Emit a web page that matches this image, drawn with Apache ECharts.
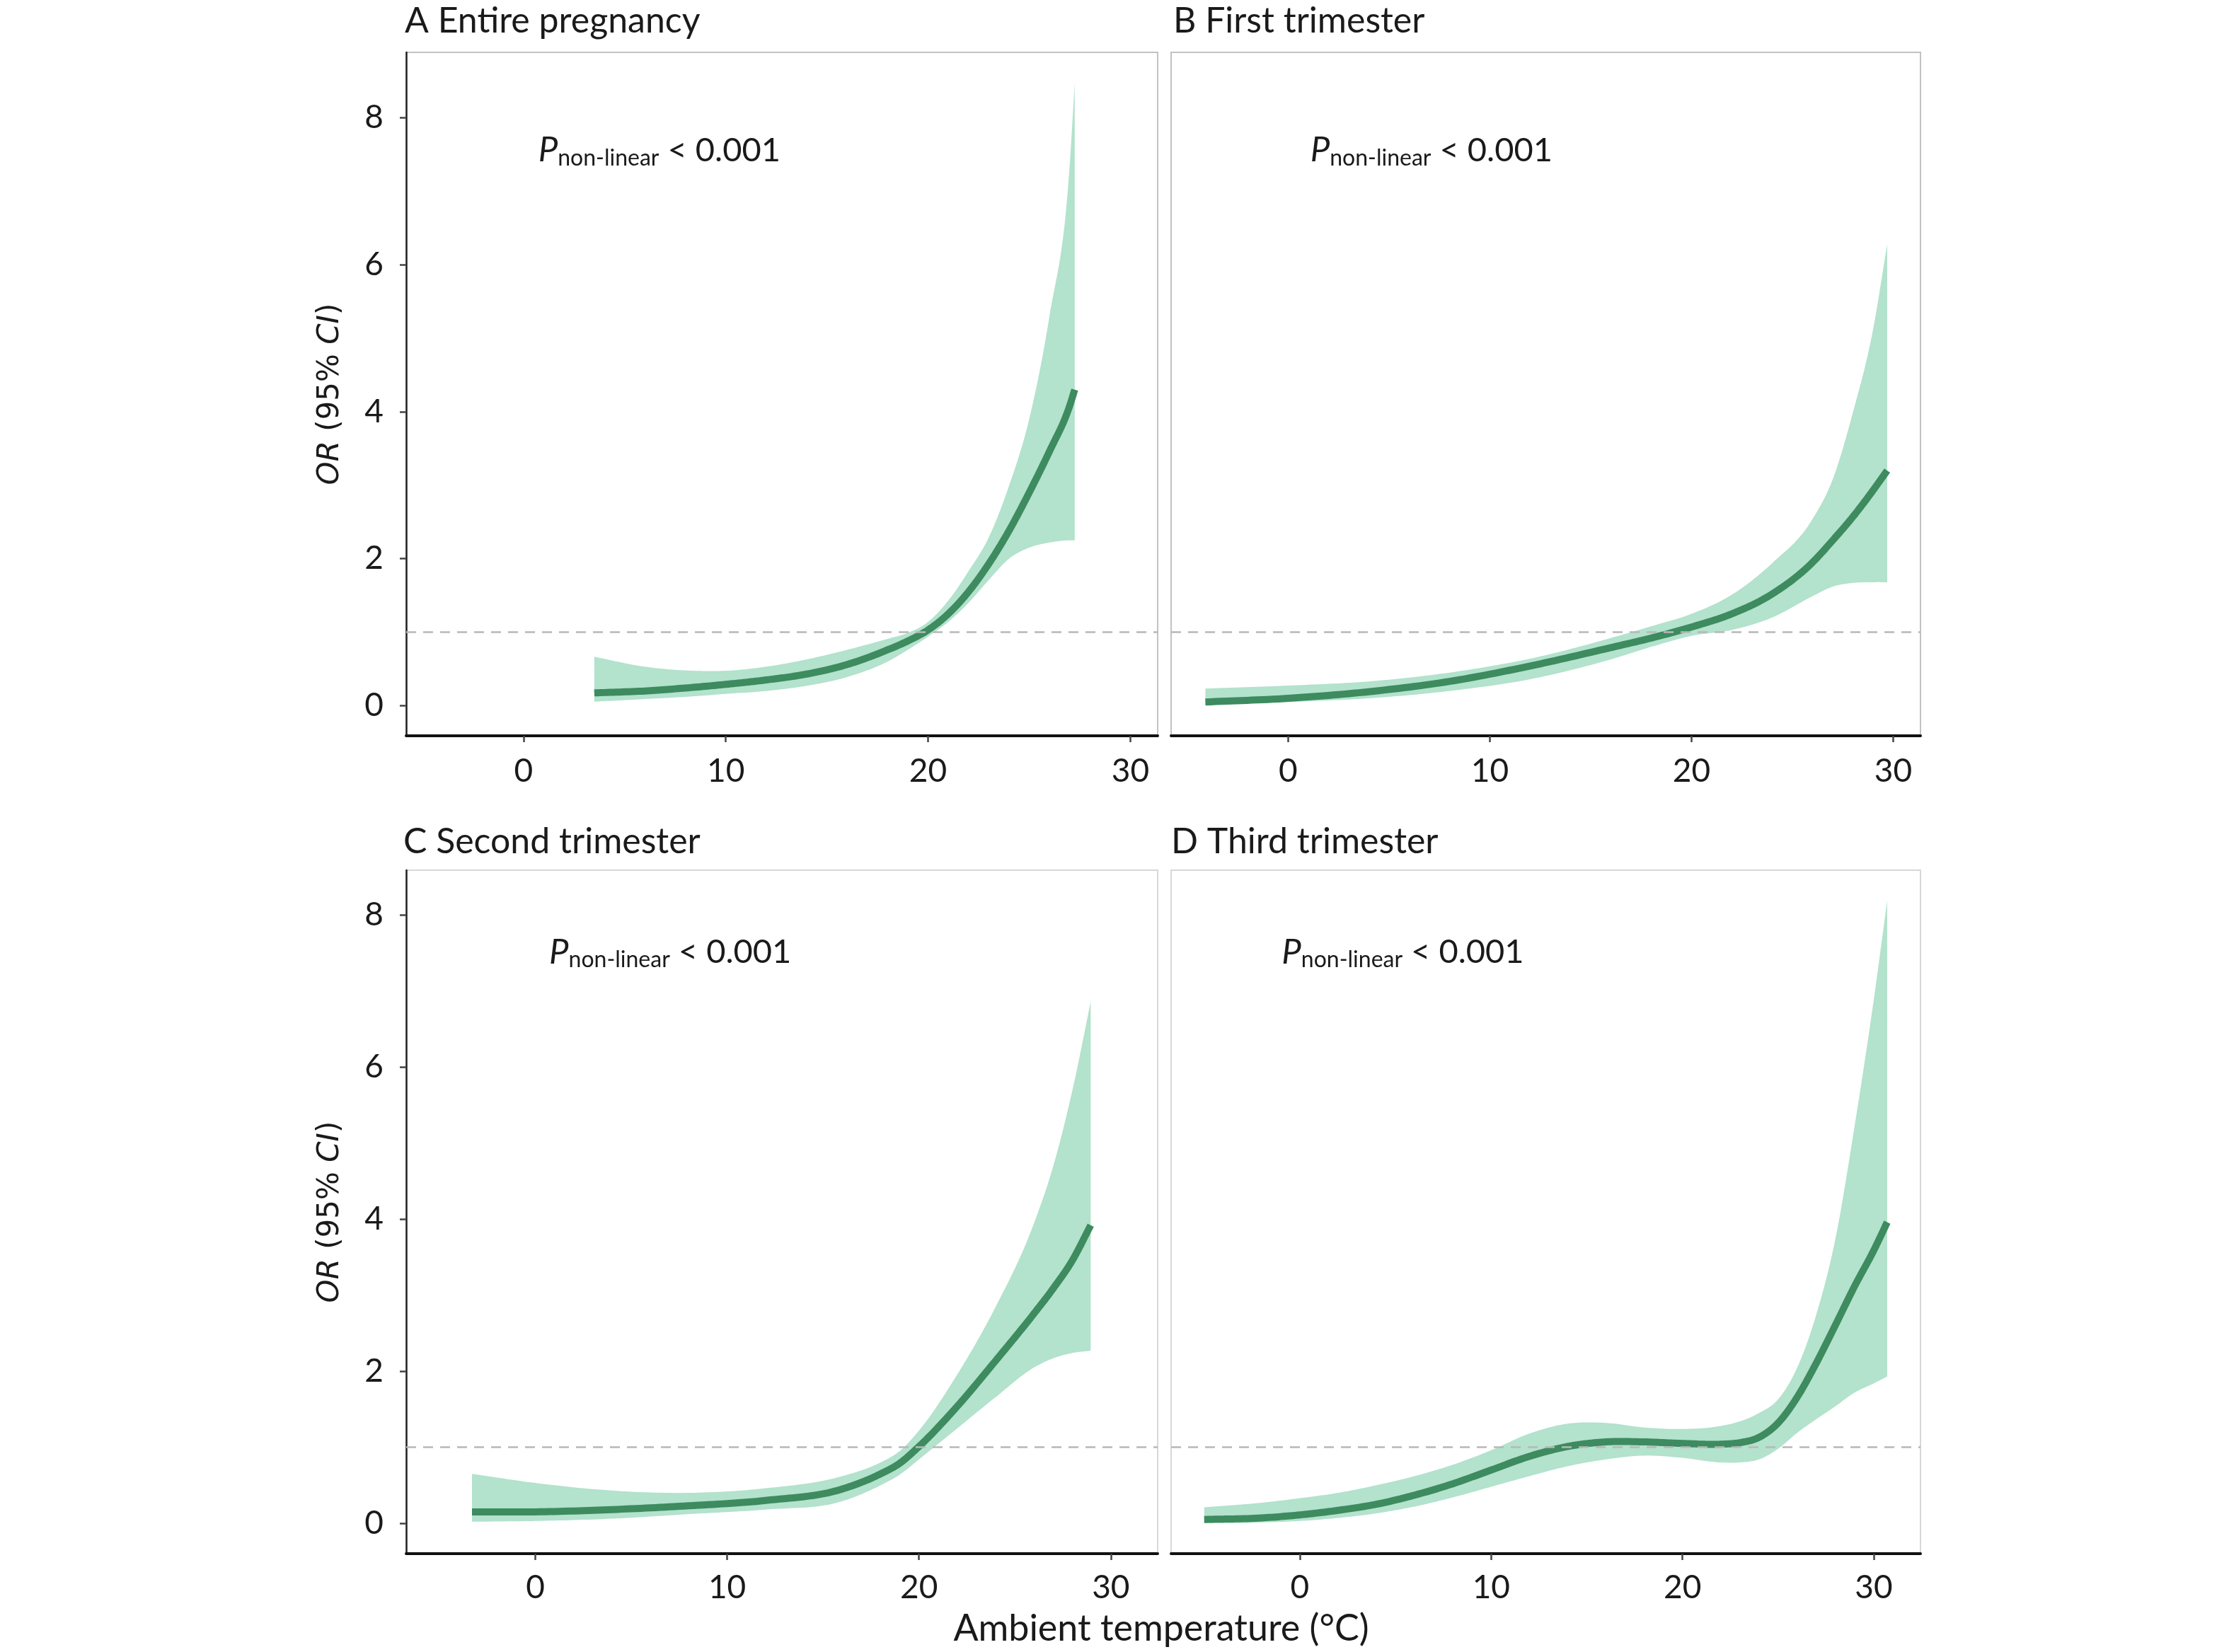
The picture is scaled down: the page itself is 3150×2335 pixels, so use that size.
<!DOCTYPE html>
<html>
<head>
<meta charset="utf-8">
<title>OR by ambient temperature</title>
<script src="https://cdn.jsdelivr.net/npm/echarts@6/dist/echarts.min.js"></script>
<style>
  html, body { margin: 0; padding: 0; background: #fff; }
  #chart { width: 3150px; height: 2335px; }
</style>
</head>
<body>
<div id="chart"></div>
<script>
// ---- data (temperature in °C, OR) ----
// A Entire pregnancy
var tempA  = [3.5, 6, 8, 10, 12, 14, 16, 18, 19, 20, 21, 22, 23, 24, 25, 26, 27, 27.25];
var fitA   = [0.174, 0.20, 0.24, 0.29, 0.35, 0.43, 0.56, 0.76, 0.88, 1.03, 1.25, 1.55, 1.93, 2.38, 2.90, 3.46, 4.08, 4.30];
var lowerA = [0.054, 0.09, 0.12, 0.16, 0.20, 0.27, 0.39, 0.60, 0.76, 0.94, 1.14, 1.40, 1.71, 2.00, 2.15, 2.22, 2.25, 2.25];
var upperA = [0.665, 0.53, 0.48, 0.475, 0.53, 0.63, 0.76, 0.91, 0.99, 1.14, 1.43, 1.83, 2.29, 2.99, 3.90, 5.30, 7.35, 8.47];

// B First trimester
var tempB  = [-4.1, 0, 4, 8, 12, 16, 18, 20, 22, 24, 26, 27, 28, 29, 29.7];
var fitB   = [0.05, 0.10, 0.19, 0.33, 0.54, 0.79, 0.92, 1.07, 1.25, 1.52, 1.95, 2.25, 2.57, 2.93, 3.20];
var lowerB = [0.01, 0.05, 0.10, 0.20, 0.36, 0.63, 0.80, 0.95, 1.03, 1.20, 1.49, 1.62, 1.67, 1.68, 1.68];
var upperB = [0.233, 0.273, 0.33, 0.45, 0.64, 0.92, 1.08, 1.25, 1.51, 1.94, 2.54, 3.08, 3.99, 5.12, 6.28];

// C Second trimester
var tempC  = [-3.3, 0, 4, 8, 12, 16, 18, 19, 20, 22, 24, 26, 27, 28, 28.95];
var fitC   = [0.15, 0.15, 0.18, 0.23, 0.30, 0.45, 0.65, 0.79, 1.01, 1.54, 2.14, 2.76, 3.09, 3.46, 3.92];
var lowerC = [0.02, 0.03, 0.06, 0.12, 0.18, 0.29, 0.50, 0.64, 0.84, 1.25, 1.66, 2.05, 2.17, 2.24, 2.27];
var upperC = [0.65, 0.53, 0.43, 0.40, 0.46, 0.62, 0.80, 0.95, 1.22, 1.96, 2.85, 3.95, 4.70, 5.70, 6.86];

// D Third trimester
var tempD  = [-5, -2, 0, 2, 4, 6, 8, 10, 12, 14, 16, 18, 20, 22, 23, 24, 25, 26, 27, 28, 29, 30, 30.7];
var fitD   = [0.05, 0.07, 0.11, 0.17, 0.25, 0.37, 0.52, 0.70, 0.88, 1.01, 1.07, 1.07, 1.05, 1.04, 1.06, 1.13, 1.32, 1.66, 2.11, 2.61, 3.12, 3.59, 3.96];
var lowerD = [0.0, 0.01, 0.03, 0.07, 0.13, 0.22, 0.34, 0.48, 0.62, 0.75, 0.84, 0.89, 0.86, 0.80, 0.80, 0.84, 0.98, 1.19, 1.37, 1.54, 1.72, 1.84, 1.93];
var upperD = [0.21, 0.27, 0.33, 0.40, 0.50, 0.62, 0.77, 0.96, 1.18, 1.31, 1.32, 1.26, 1.24, 1.28, 1.34, 1.45, 1.63, 2.05, 2.75, 3.75, 5.23, 6.89, 8.19];

var xTicks = [0, 10, 20, 30];
var yTicks = [0, 2, 4, 6, 8];
var refOR = 1;
var panelTitles = ['A Entire pregnancy', 'B First trimester', 'C Second trimester', 'D Third trimester'];
var pValueText = '< 0.001';
// where the P label starts (temperature, OR at its baseline)
var pLabelAt = [[0.73, 7.42], [1.1, 7.42], [0.72, 7.38], [-0.95, 7.38]];

var panels = [
  { x: tempA, fit: fitA, lo: lowerA, hi: upperA },
  { x: tempB, fit: fitB, lo: lowerB, hi: upperB },
  { x: tempC, fit: fitC, lo: lowerC, hi: upperC },
  { x: tempD, fit: fitD, lo: lowerD, hi: upperD }
];

// ---- layout ----
var FONT = 'Lato';
var ribbonColor = '#b3e2cd';
var lineColor = '#3d8b5f';
var textColor = '#1a1a1a';

var gridBox = [
  { left: 574,  top: 74,   width: 1062, height: 966 },
  { left: 1655, top: 74,   width: 1059, height: 966 },
  { left: 574,  top: 1230, width: 1062, height: 966 },
  { left: 1655, top: 1230, width: 1059, height: 966 }
];
var xRange = [[-5.8, 31.35], [-5.8, 31.35], [-6.73, 32.44], [-6.73, 32.44]];
var yRange = [[-0.41, 8.89], [-0.41, 8.89], [-0.40, 8.59], [-0.40, 8.59]];

function pairs(xs, ys) {
  return xs.map(function (v, i) { return [v, ys[i]]; });
}

// cubic hermite through pixel points (x increasing), only to draw curves smoothly
function smoothPts(pts, steps) {
  var n = pts.length, h = [], d = [], m = [], out = [];
  for (var i = 0; i < n - 1; i++) {
    h.push(pts[i + 1][0] - pts[i][0]);
    d.push((pts[i + 1][1] - pts[i][1]) / h[i]);
  }
  m[0] = d[0];
  m[n - 1] = d[n - 2];
  for (var j = 1; j < n - 1; j++) {
    m[j] = (d[j - 1] * h[j] + d[j] * h[j - 1]) / (h[j - 1] + h[j]);
  }
  for (var k = 0; k < n - 1; k++) {
    for (var s = 0; s < steps; s++) {
      var t = s / steps, t2 = t * t, t3 = t2 * t;
      var y = (2 * t3 - 3 * t2 + 1) * pts[k][1] + (t3 - 2 * t2 + t) * h[k] * m[k] +
              (-2 * t3 + 3 * t2) * pts[k + 1][1] + (t3 - t2) * h[k] * m[k + 1];
      out.push([pts[k][0] + t * h[k], y]);
    }
  }
  out.push(pts[n - 1]);
  return out;
}

function ribbonRenderer(p) {
  return function (params, api) {
    if (params.dataIndex !== 0) return;
    var up = p.x.map(function (v, k) { return api.coord([v, p.hi[k]]); });
    var dn = p.x.map(function (v, k) { return api.coord([v, p.lo[k]]); });
    var pts = smoothPts(up, 16).concat(smoothPts(dn, 16).reverse());
    return { type: 'polygon', shape: { points: pts }, style: { fill: ribbonColor } };
  };
}

function fitRenderer(p) {
  return function (params, api) {
    if (params.dataIndex !== 0) return;
    var pts = p.x.map(function (v, k) { return api.coord([v, p.fit[k]]); });
    return {
      type: 'polyline', shape: { points: smoothPts(pts, 16) },
      style: { fill: null, stroke: lineColor, lineWidth: 10, lineCap: 'butt', lineJoin: 'round' }
    };
  };
}

var grids = [], xAxes = [], yAxes = [], series = [];
panels.forEach(function (p, i) {
  var leftCol = (i % 2 === 0);
  grids.push({
    left: gridBox[i].left, top: gridBox[i].top,
    width: gridBox[i].width, height: gridBox[i].height,
    show: true, borderWidth: 2,
    borderColor: i < 2 ? '#c2c2c2' : '#d8d8d8',
    backgroundColor: '#fff'
  });
  xAxes.push({
    type: 'value', gridIndex: i,
    min: xRange[i][0], max: xRange[i][1],
    axisLine: { show: true, onZero: false, lineStyle: { color: '#111', width: 4 } },
    axisTick: { show: true, length: 9, customValues: xTicks, lineStyle: { color: '#444', width: 2.5 } },
    axisLabel: { show: true, customValues: xTicks, margin: i < 2 ? 27 : 25,
      fontFamily: FONT, fontSize: 46, color: textColor },
    splitLine: { show: false }
  });
  yAxes.push({
    type: 'value', gridIndex: i,
    min: yRange[i][0], max: yRange[i][1],
    axisLine: { show: leftCol, onZero: false, lineStyle: { color: '#222', width: 2.5 } },
    axisTick: { show: leftCol, length: 9, customValues: yTicks, lineStyle: { color: '#444', width: 2.5 } },
    axisLabel: { show: leftCol, customValues: yTicks, margin: 32,
      fontFamily: FONT, fontSize: 46, color: textColor },
    splitLine: { show: false }
  });

  series.push({
    type: 'custom', name: 'ci' + i, xAxisIndex: i, yAxisIndex: i,
    data: [[p.x[0], p.lo[0]]], silent: true, z: 2,
    renderItem: ribbonRenderer(p)
  });
  // invisible lower bound line that carries the OR = 1 reference line
  series.push({
    type: 'line', name: 'ref' + i, xAxisIndex: i, yAxisIndex: i,
    data: pairs(p.x, p.lo), symbol: 'none', silent: true, z: 3,
    lineStyle: { opacity: 0 },
    markLine: {
      silent: true, symbol: ['none', 'none'], label: { show: false },
      lineStyle: { color: '#b8b8b8', type: [14, 10], width: 2.5 },
      data: [{ yAxis: refOR }]
    }
  });
  series.push({
    type: 'custom', name: 'fit' + i, xAxisIndex: i, yAxisIndex: i,
    data: [[p.x[0], p.fit[0]]], silent: true, z: 4,
    renderItem: fitRenderer(p)
  });
});

var chart = echarts.init(document.getElementById('chart'), null, { renderer: 'canvas' });
chart.setOption({
  animation: false,
  backgroundColor: '#fff',
  grid: grids,
  xAxis: xAxes,
  yAxis: yAxes,
  series: series
});

// ---- text: panel titles, axis names, P labels ----
var titlePos = [[572, 30], [1658, 30], [570, 1190], [1655, 1190]];
var graphics = [];
panelTitles.forEach(function (t, i) {
  graphics.push({
    type: 'text', x: titlePos[i][0], y: titlePos[i][1], silent: true, z: 100,
    style: { text: t, fontFamily: FONT, fontSize: 50, fill: textColor,
      align: 'left', verticalAlign: 'middle', textAlign: 'left', textVerticalAlign: 'middle' }
  });
});

[557, 1713].forEach(function (cy) {
  graphics.push({
    type: 'text', x: 467, y: cy, rotation: Math.PI / 2, silent: true, z: 100,
    style: {
      text: '{i|OR} (95% {i|CI})',
      fontFamily: 'DejaVu Sans', fontSize: 42, fill: textColor,
      align: 'center', verticalAlign: 'middle', textAlign: 'center', textVerticalAlign: 'middle',
      rich: { i: { fontFamily: 'DejaVu Sans', fontSize: 42, fontStyle: 'italic', fill: textColor } }
    }
  });
});

graphics.push({
  type: 'text', x: 1641, y: 2302, silent: true, z: 100,
  style: { text: 'Ambient temperature (°C)', fontFamily: FONT, fontSize: 52, fill: textColor,
    align: 'center', verticalAlign: 'middle', textAlign: 'center', textVerticalAlign: 'middle' }
});

pLabelAt.forEach(function (pos, i) {
  var px = chart.convertToPixel({ gridIndex: i }, pos);
  graphics.push({
    type: 'text', x: px[0], y: px[1] - 41, silent: true, z: 100,
    style: {
      text: '{p|P}{s|non-linear}{m| ' + pValueText + '}',
      align: 'left', verticalAlign: 'top', textAlign: 'left', textVerticalAlign: 'top',
      rich: {
        p: { fontFamily: FONT, fontSize: 49, fontStyle: 'italic', lineHeight: 54, fill: textColor },
        s: { fontFamily: FONT, fontSize: 32, lineHeight: 24, verticalAlign: 'bottom', fill: textColor },
        m: { fontFamily: FONT, fontSize: 47, lineHeight: 54, fill: textColor }
      }
    }
  });
});

chart.setOption({ graphic: { elements: graphics } });
</script>
</body>
</html>
